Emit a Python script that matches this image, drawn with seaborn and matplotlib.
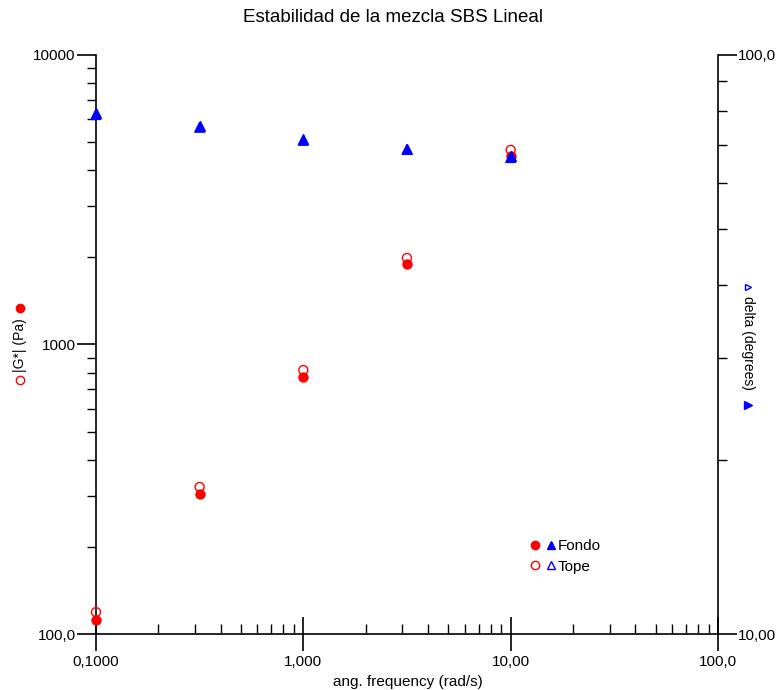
import matplotlib
matplotlib.use("Agg")
import matplotlib.pyplot as plt
from matplotlib.lines import Line2D
from matplotlib.legend_handler import HandlerTuple
from matplotlib.ticker import LogLocator, NullFormatter
import seaborn as sns
import pandas as pd
import numpy as np

# ---- data ----
freq = [0.1, 0.316, 1.0, 3.16, 10.0]
g_fondo = [112, 305, 775, 1895, 4480]
g_tope = [119, 322, 816, 1990, 4700]
delta_fondo = [79.5, 75.5, 71.7, 68.9, 66.8]
delta_tope = [78.9, 75.0, 71.2, 68.7, 66.5]

x_ticks = [0.1, 1, 10, 100]
x_labels = ["0,1000", "1,000", "10,00", "100,0"]
yl_ticks = [100, 1000, 10000]
yl_labels = ["100,0", "1000", "10000"]
yr_ticks = [10, 100]
yr_labels = ["10,00", "100,0"]

title = "Estabilidad de la mezcla SBS Lineal"
xlabel = "ang. frequency (rad/s)"

sns.set_style("ticks")
plt.rcParams["font.family"] = ["Liberation Sans", "DejaVu Sans"]
plt.rcParams["text.color"] = "black"
plt.rcParams["xtick.color"] = "black"
plt.rcParams["ytick.color"] = "black"
plt.rcParams["axes.labelcolor"] = "black"

df = pd.DataFrame({
    "freq": freq * 2,
    "G": g_fondo + g_tope,
    "delta": delta_fondo + delta_tope,
    "muestra": ["Fondo"] * 5 + ["Tope"] * 5,
})
dfF = df[df.muestra == "Fondo"]
dfT = df[df.muestra == "Tope"]

RED = "#ff0000"
BLUE = "#0000ff"

fig = plt.figure(figsize=(7.79, 6.90), dpi=100)
ax = fig.add_axes([96 / 779, 1 - 634 / 690, (718 - 96) / 779, (634 - 55) / 690])
ax2 = ax.twinx()

ax.set_xscale("log")
ax.set_yscale("log")
ax2.set_yscale("log")

sns.scatterplot(data=dfF, x="freq", y="G", ax=ax, marker="o", s=42,
                color=RED, edgecolor=RED, linewidth=1, legend=False, zorder=3,
                clip_on=False)
sns.scatterplot(data=dfT, x="freq", y="G", ax=ax, marker="o", s=42,
                facecolor="none", edgecolor=RED, linewidth=1, legend=False, zorder=3,
                clip_on=False)
sns.scatterplot(data=dfF, x="freq", y="delta", ax=ax2, marker="^", s=48,
                color=BLUE, edgecolor=BLUE, linewidth=1, legend=False, zorder=3,
                clip_on=False)
sns.scatterplot(data=dfT, x="freq", y="delta", ax=ax2, marker="^", s=48,
                facecolor="none", edgecolor=BLUE, linewidth=1, legend=False, zorder=3,
                clip_on=False)

ax.set_xlim(0.1, 100)
ax.set_ylim(100, 10000)
ax2.set_ylim(10, 100)

ax.set_xticks(x_ticks, x_labels)
ax.set_yticks(yl_ticks, yl_labels)
ax2.set_yticks(yr_ticks, yr_labels)
for axis in [ax.xaxis, ax.yaxis, ax2.yaxis]:
    axis.set_minor_locator(LogLocator(base=10, subs=np.arange(2, 10)))
    axis.set_minor_formatter(NullFormatter())

ax.set_xlabel("")
ax.set_ylabel("")
ax2.set_ylabel("")

lw = 1.2
ax.spines["top"].set_visible(False)
ax.spines["right"].set_visible(False)
ax2.spines["top"].set_visible(False)
ax2.spines["left"].set_visible(False)
ax2.spines["bottom"].set_visible(False)
for s in ["left", "bottom"]:
    ax.spines[s].set_linewidth(lw)
    ax.spines[s].set_color("black")
ax2.spines["right"].set_linewidth(lw)
ax2.spines["right"].set_color("black")

ax.tick_params(axis="x", which="major", direction="inout", length=24, width=lw,
               labelsize=11, pad=3)
ax.tick_params(axis="x", which="minor", direction="in", length=7, width=1)
ax.tick_params(axis="y", which="major", direction="out", length=13.5, width=lw,
               labelsize=11, pad=1)
ax.tick_params(axis="y", which="minor", direction="out", length=6.5, width=1)
ax2.tick_params(axis="y", which="major", direction="out", length=13.5, width=lw,
                labelsize=11, pad=1)
ax2.tick_params(axis="y", which="minor", direction="out", length=6.5, width=1)

fig.text(393 / 779, 1 - 18 / 690, title, ha="center", va="center", fontsize=13.5)
fig.text(408 / 779, 1 - 682 / 690, xlabel, ha="center", va="center", fontsize=11)

# axis labels with symbol markers
fig.text(20 / 779, 1 - 345 / 690, "|G*| (Pa)", rotation=90, ha="center",
         va="center", fontsize=10)
fig.add_artist(Line2D([20 / 779], [1 - 380 / 690], marker="o", ms=6, mfc="none",
                      mec=RED, mew=1, transform=fig.transFigure))
fig.add_artist(Line2D([20 / 779], [1 - 308 / 690], marker="o", ms=6, mfc=RED,
                      mec=RED, transform=fig.transFigure))
fig.text(748 / 779, 1 - 343 / 690, "delta (degrees)", rotation=270, ha="center",
         va="center", fontsize=10)
fig.add_artist(Line2D([748 / 779], [1 - 287 / 690], marker=">", ms=5, mfc="none",
                      mec=BLUE, mew=1, transform=fig.transFigure))
fig.add_artist(Line2D([748 / 779], [1 - 405 / 690], marker=">", ms=6, mfc=BLUE,
                      mec=BLUE, transform=fig.transFigure))

# legend
hF = (Line2D([], [], marker="o", ls="", ms=6, mfc=RED, mec=RED),
      Line2D([], [], marker="^", ls="", ms=6, mfc=BLUE, mec=BLUE))
hT = (Line2D([], [], marker="o", ls="", ms=6, mfc="none", mec=RED),
      Line2D([], [], marker="^", ls="", ms=6, mfc="none", mec=BLUE))
ax2.legend([hF, hT], ["Fondo", "Tope"], handler_map={tuple: HandlerTuple(ndivide=None, pad=0.5)},
           loc="center left", bbox_to_anchor=(0.688, 0.134), frameon=False,
           fontsize=11, handlelength=1.5, handletextpad=0.2, labelspacing=0.42,
           borderpad=0)

fig.savefig("out.png", dpi=100)
